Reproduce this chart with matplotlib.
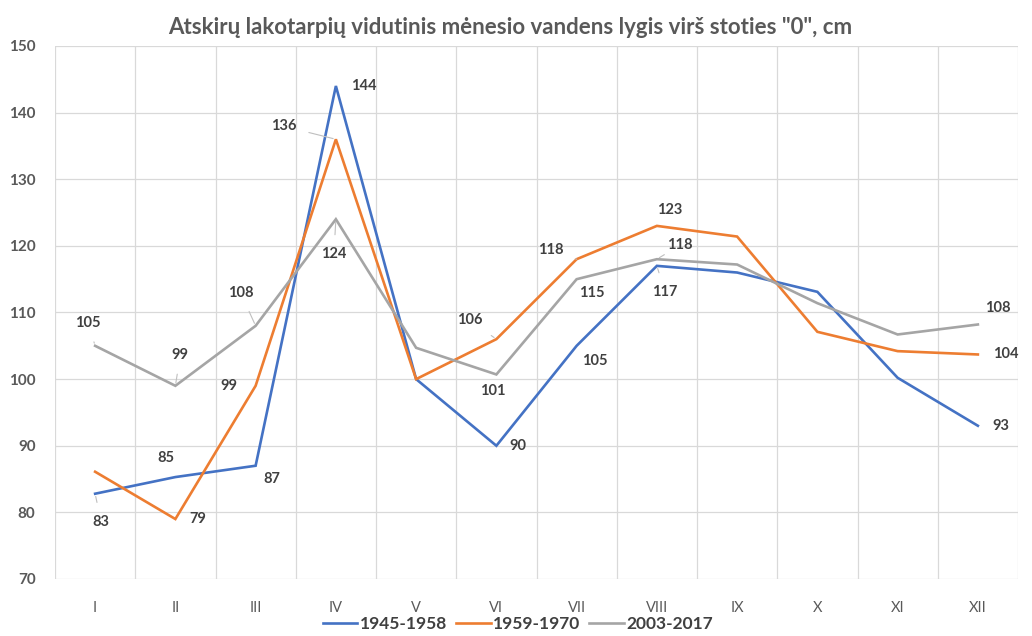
import matplotlib
matplotlib.use("Agg")
import matplotlib.pyplot as plt
from matplotlib.ticker import MultipleLocator

plt.rcParams['font.family'] = ['Lato', 'DejaVu Sans']

months = ["I", "II", "III", "IV", "V", "VI", "VII", "VIII", "IX", "X", "XI", "XII"]

lvl_1945_1958 = [82.8, 85.3, 87, 144, 100, 90, 105, 117, 116, 113.1, 100.2, 93]
lvl_1959_1970 = [86.1, 79, 99, 136, 100, 106, 118, 123, 121.4, 107.1, 104.2, 103.7]
lvl_2003_2017 = [105, 99, 108, 124, 104.7, 100.7, 115, 118, 117.2, 111.4, 106.7, 108.2]

# which points carry a value label: (month index, label text)
labels_1945_1958 = [(0, "83"), (1, "85"), (2, "87"), (3, "144"), (5, "90"), (6, "105"), (7, "117"), (11, "93")]
labels_1959_1970 = [(1, "79"), (2, "99"), (3, "136"), (5, "106"), (6, "118"), (7, "123"), (11, "104")]
labels_2003_2017 = [(0, "105"), (1, "99"), (2, "108"), (3, "124"), (5, "101"), (6, "115"), (7, "118"), (11, "108")]

# label offsets in pixels, and whether a leader line is drawn
offs_1945_1958 = {0: (6, -28, True), 1: (-9, 19, False), 2: (16, -13, False), 3: (28, 0, False),
                  5: (21, 0, False), 6: (18, -15, False), 7: (8, -26, True), 11: (23, 0, False)}
offs_1959_1970 = {1: (22, 0, False), 2: (-27, 0, False), 3: (-52, 13, True), 5: (-27, 19, True),
                  6: (-26, 9, True), 7: (13, 16, False), 11: (28, 0, False)}
offs_2003_2017 = {0: (-7, 23, True), 1: (5, 31, True), 2: (-15, 33, True), 3: (-2, -35, True),
                  5: (-4, -17, False), 6: (15, -14, False), 7: (23, 14, True), 11: (20, 16, False)}

blue = "#4472C4"
orange = "#ED7D31"
gray = "#A5A5A5"
text_col = "#404040"

fig = plt.figure(figsize=(10.32, 6.36), dpi=100)
ax = fig.add_axes([55 / 1032, (636 - 579) / 636, (1018 - 55) / 1032, (579 - 46) / 636])

x = list(range(len(months)))
series = [
    ("1945-1958", lvl_1945_1958, blue, labels_1945_1958, offs_1945_1958),
    ("1959-1970", lvl_1959_1970, orange, labels_1959_1970, offs_1959_1970),
    ("2003-2017", lvl_2003_2017, gray, labels_2003_2017, offs_2003_2017),
]

for name, vals, col, labs, offs in series:
    ax.plot(x, vals, color=col, lw=1.9, label=name, solid_joinstyle="miter", zorder=3)
    for i, txt in labs:
        dx, dy, leader = offs[i]
        ap = None
        if leader:
            ap = dict(arrowstyle="-", color="#BFBFBF", lw=0.8, shrinkA=7, shrinkB=2)
        ax.annotate(txt, (x[i], vals[i]), xytext=(dx, dy), textcoords="offset pixels",
                    ha="center", va="center", fontsize=10.5, fontweight="bold",
                    color=text_col, arrowprops=ap, zorder=4)

ax.set_xlim(-0.5, 11.5)
ax.set_ylim(70, 150)
ax.yaxis.set_major_locator(MultipleLocator(10))
ax.set_xticks(x)
ax.set_xticklabels(months)
ax.set_xticks([i + 0.5 for i in range(-1, 12)], minor=True)

ax.grid(axis="y", which="major", color="#D9D9D9", lw=0.9)
ax.grid(axis="x", which="minor", color="#D9D9D9", lw=0.9)
ax.set_axisbelow(True)
for s in ax.spines.values():
    s.set_visible(False)
ax.tick_params(which="both", length=0)
ax.tick_params(axis="y", pad=14, labelsize=11, labelcolor="#595959")
ax.tick_params(axis="x", pad=16, labelsize=10.5, labelcolor="#595959")
for t in ax.get_yticklabels():
    t.set_fontweight("bold")

fig.text(510 / 1032, 1 - 27 / 636, 'Atskirų lakotarpių vidutinis mėnesio vandens lygis virš stoties "0", cm',
         ha="center", va="center", fontsize=16, fontweight="bold", color="#595959")

leg = fig.legend(loc="center", bbox_to_anchor=(518 / 1032, 1 - 624 / 636), ncol=3, frameon=False,
                 handlelength=2.0, handletextpad=0.15, columnspacing=0.5, prop={"size": 12.5, "weight": "bold"})
for t in leg.get_texts():
    t.set_color(text_col)

fig.savefig("out.png", dpi=100, facecolor="white")
